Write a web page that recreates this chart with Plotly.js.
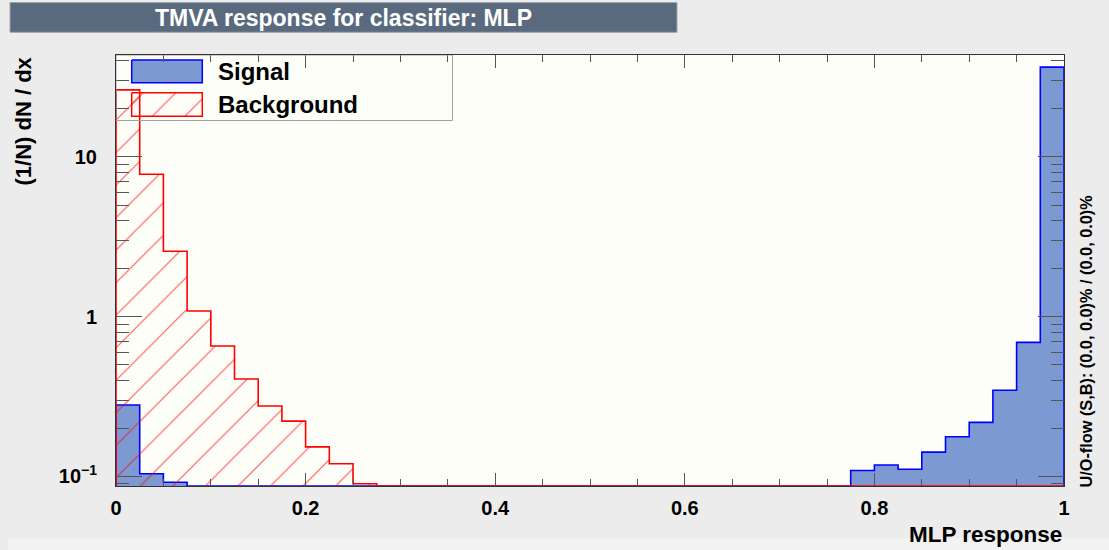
<!DOCTYPE html>
<html>
<head>
<meta charset="utf-8">
<script src="https://cdn.plot.ly/plotly-3.0.1.min.js"></script>
<style>html,body{margin:0;padding:0;background:#ececec;}#chart{width:1109px;height:550px;}</style>
</head>
<body>
<div id="chart"></div>
<script>
// ---- data ----
const xMin = 0, xMax = 1, nBins = 40;
const signal = [0.28, 0.104, 0.092, 0, 0, 0, 0, 0, 0, 0,
                0, 0, 0, 0, 0, 0, 0, 0, 0, 0,
                0, 0, 0, 0, 0, 0, 0, 0, 0, 0,
                0, 0.109, 0.118, 0.111, 0.142, 0.177, 0.218, 0.346, 0.691, 36.5];
const background = [26.3, 7.80, 2.57, 1.086, 0.655, 0.407, 0.276, 0.222, 0.153, 0.120,
                    0.090, 0, 0, 0, 0, 0, 0, 0, 0, 0,
                    0, 0, 0, 0, 0, 0, 0, 0, 0, 0,
                    0, 0, 0, 0, 0, 0, 0, 0, 0, 0];
const yTickVals = [0.1, 1, 10];
const yTickText = ['10<sup>\u22121</sup>', '1', '10'];
const yMinorVals = [0.09, 0.2, 0.3, 0.4, 0.5, 0.6, 0.7, 0.8, 0.9, 2, 3, 4, 5, 6, 7, 8, 9, 20, 30, 40];
const yLow = 0.0871, yHigh = 43.5;
const titleText = 'TMVA response for classifier: MLP';
const xTitle = 'MLP response';
const yTitle = '(1/N) dN / dx';
const uoText = 'U/O-flow (S,B): (0.0, 0.0)% / (0.0, 0.0)%';
const legendNames = ['Signal', 'Background'];

// ---- geometry ----
const W = 1109, H = 550;
const M = {l: 116, r: 45, t: 55, b: 64};
const PW = W - M.l - M.r, PH = H - M.t - M.b;
const px = x => (x - M.l) / PW;
const py = y => 1 - (y - M.t) / PH;

const edges = [];
for (let i = 0; i <= nBins; i++) edges.push(xMin + i * (xMax - xMin) / nBins);

function stepPath(vals, floor) {
  const xs = [xMin], ys = [floor];
  vals.forEach((v, i) => {
    const h = Math.max(v, floor);
    xs.push(edges[i], edges[i + 1]);
    ys.push(h, h);
  });
  xs.push(xMax); ys.push(floor);
  return {x: xs, y: ys};
}

const floor = yLow;
const sPath = stepPath(signal, floor);
const bPath = stepPath(background, floor);

const sigFill = '#7d99d1', sigLine = '#0000ff';
const bkgLine = '#ff0000';
const hatch = {shape: '/', fgcolor: '#ff0000', fgopacity: 0.65, bgcolor: 'rgba(0,0,0,0)', size: 23, solidity: 0.05};

const traces = [
  {x: sPath.x, y: sPath.y, type: 'scatter', mode: 'lines', fill: 'toself', fillcolor: sigFill,
   line: {width: 0, color: sigFill}, hoverinfo: 'skip', showlegend: false},
  {x: sPath.x, y: sPath.y, type: 'scatter', mode: 'lines', line: {color: sigLine, width: 1.6},
   name: legendNames[0], showlegend: false},
  {x: bPath.x, y: bPath.y, type: 'scatter', mode: 'lines', fill: 'toself', fillcolor: 'rgba(0,0,0,0)',
   fillpattern: hatch, line: {width: 0, color: 'rgba(0,0,0,0)'}, hoverinfo: 'skip', showlegend: false},
  {x: bPath.x, y: bPath.y, type: 'scatter', mode: 'lines', line: {color: bkgLine, width: 1.6},
   name: legendNames[1], showlegend: false},
  // legend swatches (overlay pixel axes)
  {x: [131.7, 202.3, 202.3, 131.7, 131.7], y: [60, 60, 82.7, 82.7, 60], xaxis: 'x2', yaxis: 'y2',
   type: 'scatter', mode: 'lines', fill: 'toself', fillcolor: sigFill, line: {color: sigLine, width: 1.5},
   hoverinfo: 'skip', showlegend: false},
  {x: [131.7, 202.3, 202.3, 131.7, 131.7], y: [92.7, 92.7, 116.3, 116.3, 92.7], xaxis: 'x2', yaxis: 'y2',
   type: 'scatter', mode: 'lines', fill: 'toself', fillcolor: 'rgba(0,0,0,0)', fillpattern: hatch,
   line: {color: bkgLine, width: 1.5}, hoverinfo: 'skip', showlegend: false}
];

const font = {family: 'Liberation Sans, Arial, sans-serif', weight: 'bold', color: '#000'};
const frame = '#333333';

const layout = {
  width: W, height: H,
  margin: M,
  paper_bgcolor: '#ececec',
  plot_bgcolor: '#fefef8',
  showlegend: false,
  title: {text: titleText, x: 343.5 / W, xref: 'container', xanchor: 'center',
          y: 1 - 17.5 / H, yref: 'container', yanchor: 'middle',
          font: Object.assign({}, font, {size: 23, color: '#ffffff'})},
  xaxis: {
    type: 'linear', range: [xMin, xMax], dtick: 0.2, tick0: 0,
    ticks: 'inside', ticklen: 13, tickwidth: 1, tickcolor: '#555',
    minor: {dtick: 0.05, ticks: 'inside', ticklen: 7, tickwidth: 1, tickcolor: '#555', showgrid: false},
    showline: true, linecolor: frame, linewidth: 1, mirror: 'ticks',
    showgrid: false, zeroline: false,
    tickfont: Object.assign({}, font, {size: 20}), ticklabelstandoff: 4
  },
  yaxis: {
    type: 'log', range: [Math.log10(yLow), Math.log10(yHigh)],
    tickmode: 'array', tickvals: yTickVals, ticktext: yTickText,
    ticks: 'inside', ticklen: 26, tickwidth: 1, tickcolor: '#555',
    minor: {tickmode: 'array', tickvals: yMinorVals, ticks: 'inside', ticklen: 13, tickwidth: 1, tickcolor: '#555', showgrid: false},
    showline: true, linecolor: frame, linewidth: 1, mirror: 'ticks',
    showgrid: false, zeroline: false,
    tickfont: Object.assign({}, font, {size: 20}), ticklabelstandoff: 14
  },
  xaxis2: {overlaying: 'x', range: [M.l, W - M.r], visible: false, fixedrange: true},
  yaxis2: {overlaying: 'y', range: [H - M.b, M.t], visible: false, fixedrange: true},
  shapes: [
    {type: 'rect', xref: 'paper', yref: 'paper', x0: px(8), x1: px(W + 5), y0: py(538), y1: py(H + 10),
     fillcolor: '#f2f2f2', line: {width: 0}, layer: 'below'},
    {type: 'rect', xref: 'paper', yref: 'paper', x0: px(10), x1: px(677), y0: py(2.5), y1: py(32.3),
     fillcolor: '#5a6a7e', line: {color: '#9aa5b2', width: 1}, layer: 'below'},
    {type: 'rect', xref: 'x2', yref: 'y2', x0: 116, x1: 452.5, y0: 55, y1: 120.5,
     fillcolor: 'rgba(0,0,0,0)', line: {color: '#a0a0a0', width: 1}}
  ],
  annotations: [
    {text: yTitle, xref: 'paper', yref: 'paper', x: px(23), y: py(55), xanchor: 'center', yanchor: 'top',
     textangle: -90, showarrow: false, font: Object.assign({}, font, {size: 22})},
    {text: xTitle, xref: 'paper', yref: 'paper', x: px(1064), y: py(534), xanchor: 'right', yanchor: 'middle',
     showarrow: false, font: Object.assign({}, font, {size: 22.5})},
    {text: uoText, xref: 'paper', yref: 'paper', x: px(1085), y: py(490), xanchor: 'center', yanchor: 'bottom',
     textangle: -90, showarrow: false, font: Object.assign({}, font, {size: 16.3})},
    {text: legendNames[0], xref: 'paper', yref: 'paper', x: px(216), y: py(71.5), xanchor: 'left', yanchor: 'middle',
     showarrow: false, font: Object.assign({}, font, {size: 24})},
    {text: legendNames[1], xref: 'paper', yref: 'paper', x: px(216), y: py(104.5), xanchor: 'left', yanchor: 'middle',
     showarrow: false, font: Object.assign({}, font, {size: 24})}
  ]
};

Plotly.newPlot('chart', traces, layout, {displayModeBar: false, staticPlot: true});
</script>
</body>
</html>
